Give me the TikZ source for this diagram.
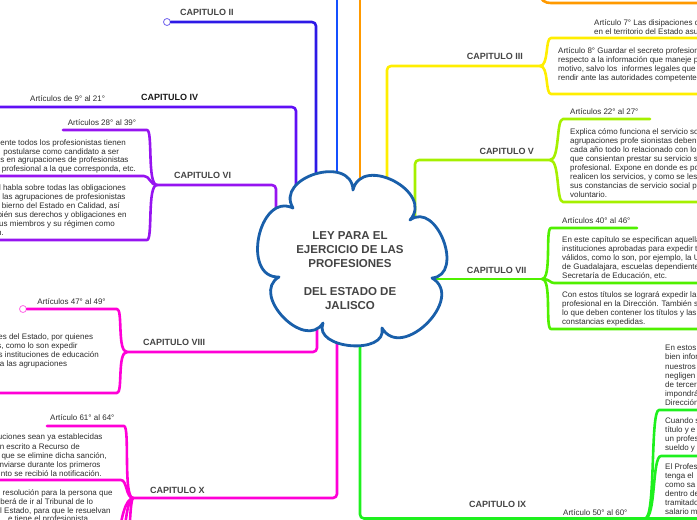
\documentclass[tikz,border=0pt]{standalone}
\usepackage{fontspec}
\setmainfont{Liberation Sans}
\definecolor{cI}{RGB}{20,80,255}
\definecolor{cII}{RGB}{45,25,230}
\definecolor{cIV}{RGB}{95,15,245}
\definecolor{cVI}{RGB}{150,20,240}
\definecolor{cMag}{RGB}{255,0,215}
\definecolor{cIX}{RGB}{30,240,30}
\definecolor{cVII}{RGB}{80,240,0}
\definecolor{cV}{RGB}{165,240,0}
\definecolor{cIII}{RGB}{255,238,0}
\definecolor{cOr}{RGB}{255,153,0}
\definecolor{cCloud}{RGB}{25,95,170}
\definecolor{bodygray}{RGB}{45,45,45}
\definecolor{labelgray}{RGB}{68,68,68}
\newcommand{\tw}[4]{\node[txt,anchor=base west] (#1) at (#2,#3) {#4};}
\newcommand{\te}[4]{\node[txt,anchor=base east] (#1) at (#2,#3) {#4};}
\begin{document}
\begin{tikzpicture}[x=1pt,y=-1pt,line cap=round,line join=round,
  conn/.style={line width=2.6,rounded corners=4},
  txt/.style={font=\fontsize{8}{9.2}\selectfont,text=bodygray,inner sep=0},
  lbl/.style={font=\fontsize{9}{11}\selectfont\bfseries,text=labelgray,inner sep=0,anchor=base west},
  marker/.style={draw,fill=white,line width=0.8,circle,inner sep=0,minimum size=7}]
\useasboundingbox (0,0) rectangle (697,520);
\clip (0,0) rectangle (697,520);

% ---------- coordinates ----------
\coordinate (j3) at (540,66);
\coordinate (j5) at (550,160);
\coordinate (j7) at (542,279);
\coordinate (j9) at (645,518.5);
\coordinate (j6) at (157,185);
\coordinate (j8) at (127,352);
\coordinate (j10) at (133,498);

% ---------- Capitulo I (blue) and orange ----------
\coordinate (i0) at (337,-5);
\coordinate (i1) at (337,200);
\draw[conn,cI] (i0) -- (i1);
\coordinate (o0) at (360,-5);
\coordinate (o1) at (360,200);
\draw[conn,cOr] (o0) -- (o1);
\coordinate (o2) at (538,-8);
\coordinate (o3) at (700,3);
\draw[conn,cOr] (o2) .. controls (541,1) and (545,3) .. (555,3) -- (o3);

% ---------- Capitulo II ----------
\node[marker,draw=cII!70] (m2) at (167,22) {};
\coordinate (r2) at (316,200);
\draw[conn,cII] (m2.east) -- (316,22) -- (r2);

% ---------- Capitulo IV ----------
\coordinate (r4) at (296,220);
\coordinate (e4) at (-5,107);
\draw[conn,cIV] (r4) -- (296,107) -- (e4);

% ---------- Capitulo VI ----------
\coordinate (r6) at (276,225);
\coordinate (e6a) at (63,130);
\coordinate (e6b) at (-5,176);
\coordinate (e6c) at (-5,240);
\draw[conn,cVI] (r6) -- (276,185) -- (j6);
\draw[conn,cVI] (j6) .. controls (147,185) and (153,130) .. (143,130) -- (e6a);
\draw[conn,cVI] (j6) .. controls (150,185) and (150,176) .. (140,176) -- (e6b);
\draw[conn,cVI] (j6) .. controls (147,185) and (153,240) .. (143,240) -- (e6c);

% ---------- Capitulo VIII ----------
\node[marker,draw=cMag!60] (m8) at (23,309) {};
\coordinate (r8) at (317,315);
\coordinate (e8b) at (-5,393);
\draw[conn,cMag] (r8) -- (317,352) -- (j8);
\draw[conn,cMag] (j8) .. controls (117,352) and (123,309) .. (113,309) -- (m8.east);
\draw[conn,cMag] (j8) .. controls (117,352) and (123,393) .. (113,393) -- (e8b);

% ---------- Capitulo X ----------
\coordinate (r10) at (337,330);
\coordinate (e10a) at (47,426);
\coordinate (e10b) at (-5,480);
\coordinate (e10c) at (117,545);
\coordinate (e10d) at (123,545);
\coordinate (e10e) at (129,545);
\draw[conn,cMag] (r10) -- (337,498) -- (j10);
\draw[conn,cMag] (j10) .. controls (123,498) and (130,426) .. (120,426) -- (e10a);
\draw[conn,cMag] (j10) .. controls (126,498) and (127,480) .. (117,480) -- (e10b);
\draw[conn,cMag] (j10) .. controls (125,500) and (122,515) .. (e10c);
\draw[conn,cMag] (j10) .. controls (128,500) and (126,515) .. (e10d);
\draw[conn,cMag] (j10) .. controls (131,500) and (130,515) .. (e10e);

% ---------- Capitulo III ----------
\coordinate (r3) at (387,200);
\coordinate (e3a) at (700,38);
\coordinate (e3b) at (700,94);
\draw[conn,cIII] (r3) -- (387,66) -- (j3);
\draw[conn,cIII] (j3) .. controls (549,66) and (545,38) .. (555,38) -- (e3a);
\draw[conn,cIII] (j3) .. controls (549,66) and (545,94) .. (555,94) -- (e3b);

% ---------- Capitulo V ----------
\coordinate (r5) at (415,250);
\coordinate (e5a) at (650,119);
\coordinate (e5b) at (700,202);
\draw[conn,cV] (r5) -- (415,160) -- (j5);
\draw[conn,cV] (j5) .. controls (560,160) and (556,119) .. (567,119) -- (e5a);
\draw[conn,cV] (j5) .. controls (560,160) and (556,202) .. (567,202) -- (e5b);

% ---------- Capitulo VII ----------
\coordinate (r7) at (425,279);
\coordinate (e7a) at (637,228);
\coordinate (e7b) at (700,283);
\coordinate (e7c) at (700,329);
\draw[conn,cVII] (r7) -- (j7);
\draw[conn,cVII] (j7) .. controls (552,279) and (545,228) .. (555,228) -- (e7a);
\draw[conn,cVII] (j7) .. controls (550,279) and (550,283) .. (558,283) -- (e7b);
\draw[conn,cVII] (j7) .. controls (552,279) and (545,329) .. (555,329) -- (e7c);

% ---------- Capitulo IX ----------
\coordinate (r9) at (360,330);
\coordinate (e9) at (700,518.5);
\coordinate (e9a) at (700,410);
\coordinate (e9b) at (700,456);
\draw[conn,cIX] (r9) -- (360,518.5) -- (j9) -- (e9);
\draw[conn,cIX] (j9) .. controls (656,518.5) and (650,410) .. (663,410) -- (e9a);
\draw[conn,cIX] (j9) .. controls (656,518.5) and (652,456) .. (665,456) -- (e9b);

% ---------- central cloud ----------
\draw[line width=2.8,draw=cCloud,fill=white]
  (293,208) .. controls (274.3,177.1) and (351.5,153.9) .. (353,190)
  .. controls (361.8,153.9) and (434.8,192.3) .. (410,220)
  .. controls (436.7,200.2) and (465.1,275) .. (432,278)
  .. controls (466,297.8) and (401.8,362) .. (382,328)
  .. controls (387.7,355.6) and (312.7,349.2) .. (323,323)
  .. controls (304.7,351.6) and (249.7,294) .. (279,277)
  .. controls (240.9,278.4) and (258.5,191.8) .. (293,208) -- cycle;
\node[font=\fontsize{11.5}{14}\selectfont\bfseries,text=labelgray,align=center,inner sep=0] (root) at (350,271)
  {LEY PARA EL\\EJERCICIO DE LAS\\PROFESIONES\\[14pt]DEL ESTADO DE\\JALISCO};

% ---------- chapter labels ----------
\node[lbl] (l2) at (180,15.9) {CAPITULO II};
\node[lbl,text=black!90] (l4) at (141,100.9) {CAPITULO IV};
\node[lbl] (l6) at (174,178.9) {CAPITULO VI};
\node[lbl] (l8) at (143,345.9) {CAPITULO VIII};
\node[lbl] (l10) at (150,493.2) {CAPITULO X};
\node[lbl] (l3) at (466.7,59.9) {CAPITULO III};
\node[lbl] (l5) at (479.3,154.9) {CAPITULO V};
\node[lbl] (l7) at (466.7,273.2) {CAPITULO VII};
\node[lbl] (l9) at (469,507.5) {CAPITULO IX};

% ---------- right texts ----------
\tw{t7-1}{594}{25.5}{Artículo 7° Las disipaciones d}
\tw{t7-2}{594}{34.5}{en el territorio del Estado asu}
\tw{t8-1}{558}{53.2}{Artículo 8° Guardar el secreto profesion}
\tw{t8-2}{558}{62.2}{respecto a la información que maneje p}
\tw{t8-3}{558}{71.2}{motivo, salvo los\ \ informes legales que}
\tw{t8-4}{558}{80.2}{rendir ante las autoridades competente}
\tw{a22}{570}{114.8}{Artículos 22° al 27°}
\tw{t5-1}{570}{134.5}{Explica cómo funciona el servicio so}
\tw{t5-2}{570}{143.5}{agrupaciones profe sionistas deben}
\tw{t5-3}{570}{152.5}{cada año todo lo relacionado con lo}
\tw{t5-4}{570}{161.5}{que consientan prestar su servicio s}
\tw{t5-5}{570}{170.5}{profesional. Expone en donde es po}
\tw{t5-6}{570}{179.5}{realicen los servicios, y como se les}
\tw{t5-7}{570}{188.5}{sus constancias de servicio social p}
\tw{t5-8}{570}{197.5}{voluntario.}
\tw{a40}{562}{223.2}{Artículos 40° al 46°}
\tw{t7a-1}{562}{242.5}{En este capítulo se especifican aquella}
\tw{t7a-2}{562}{251.5}{instituciones aprobadas para expedir t}
\tw{t7a-3}{562}{260.5}{válidos, como lo son, por ejemplo, la U}
\tw{t7a-4}{562}{269.5}{de Guadalajara, escuelas dependiente}
\tw{t7a-5}{562}{278.5}{Secretaría de Educación, etc.}
\tw{t7b-1}{562}{297.5}{Con estos títulos se logrará expedir la}
\tw{t7b-2}{562}{306.5}{profesional en la Dirección. También s}
\tw{t7b-3}{562}{315.5}{lo que deben contener los títulos y las}
\tw{t7b-4}{562}{324.5}{constancias expedidas.}
\tw{t9a-1}{665}{350.8}{En estos}
\tw{t9a-2}{665}{359.9}{bien infor}
\tw{t9a-3}{665}{369.0}{nuestros}
\tw{t9a-4}{665}{378.1}{negligen}
\tw{t9a-5}{665}{387.2}{de tercer}
\tw{t9a-6}{665}{396.3}{impondrá}
\tw{t9a-7}{665}{405.4}{Dirección}
\tw{t9b-1}{665}{423.5}{Cuando s}
\tw{t9b-2}{665}{432.5}{título y e}
\tw{t9b-3}{665}{441.5}{un profes}
\tw{t9b-4}{665}{450.5}{sueldo y}
\tw{t9c-1}{665}{469.5}{El Profes}
\tw{t9c-2}{665}{478.5}{tenga el}
\tw{t9c-3}{665}{487.5}{como sa}
\tw{t9c-4}{665}{496.5}{dentro de}
\tw{t9c-5}{665}{505.5}{tramitado}
\tw{t9c-6}{665}{514.5}{salario m}
\tw{a50}{563}{515.5}{Artículo 50° al 60°}

% ---------- left texts ----------
\tw{a9}{30}{101.8}{Artículos de 9° al 21°}
\tw{a28}{67.7}{125.8}{Artículos 28° al 39°}
\te{t6a-1}{126}{145.2}{ente todos los profesionistas tienen}
\te{t6a-2}{119.3}{154.2}{postularse como candidato a ser}
\te{t6a-3}{128.7}{162.8}{es en agrupaciones de profesionistas}
\te{t6a-4}{136}{171.8}{profesional a la que corresponda, etc.}
\te{t6b-1}{126}{190.8}{l habla sobre todas las obligaciones}
\te{t6b-2}{125.7}{199.8}{las agrupaciones de profesionistas}
\te{t6b-3}{120}{208.5}{bierno del Estado en Calidad, así}
\te{t6b-4}{126.7}{217.5}{bién sus derechos y obligaciones en}
\te{t6b-5}{115}{226.5}{us miembros y su régimen como}
\te{t6b-6}{4}{235.2}{n.}
\tw{a47}{37.3}{304.8}{Artículos 47° al 49°}
\te{t8a-1}{93.3}{339.2}{es del Estado, por quienes}
\te{t8a-2}{77.7}{348.5}{s, como lo son expedir}
\te{t8a-3}{99}{357.5}{s instituciones de educación}
\te{t8a-4}{67.3}{366.8}{a las agrupaciones}
\tw{a61}{50}{420.8}{Artículo 61° al 64°}
\te{t10a-1}{102.7}{439.8}{uciones sean ya establecidas}
\te{t10a-2}{80}{449.2}{n escrito a Recurso de}
\te{t10a-3}{106.7}{458.2}{que se elimine dicha sanción,}
\te{t10a-4}{100.7}{467.5}{nviarse durante los primeros}
\te{t10a-5}{101.7}{476.5}{nto se recibió la notificación.}
\te{t10b-1}{112.7}{495.8}{resolución para la persona que}
\te{t10b-2}{93.3}{504.8}{eberá de ir al Tribunal de lo}
\te{t10b-3}{110.7}{513.2}{l Estado, para que le resuelvan}
\te{t10b-4}{88.3}{521.8}{e tiene el profesionista}
\end{tikzpicture}
\end{document}
